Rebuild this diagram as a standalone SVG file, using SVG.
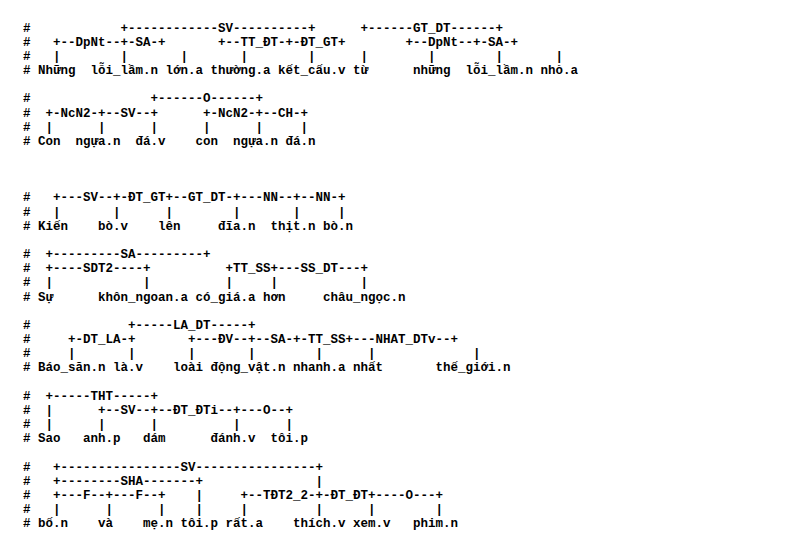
<svg xmlns="http://www.w3.org/2000/svg" width="804" height="550" viewBox="0 0 804 550">
<style>
text{font-family:"Liberation Mono","DejaVu Sans Mono",monospace;font-size:12.5px;font-weight:bold;fill:#000}
</style>
<rect width="804" height="550" fill="#fff"/>
<g id="parse1">
<g id="parse1-links">
<text y="31.5"><tspan x="23">#</tspan><tspan x="120.5">+------------SV----------+</tspan><tspan x="360.5">+------GT_DT------+</tspan></text>
<text y="45.7"><tspan x="23">#</tspan><tspan x="53">+--DpNt--+-SA-+</tspan><tspan x="218">+--TT_ĐT-+-ĐT_GT+</tspan><tspan x="405.5">+--DpNt--+-SA-+</tspan></text>
<text y="59.8"><tspan x="23">#</tspan><tspan x="53">|</tspan><tspan x="120.5">|</tspan><tspan x="180.5">|</tspan><tspan x="240.5">|</tspan><tspan x="308">|</tspan><tspan x="360.5">|</tspan><tspan x="428">|</tspan><tspan x="495.5">|</tspan><tspan x="555.5">|</tspan></text>
</g>
<g id="parse1-words">
<text y="74"><tspan x="23">#</tspan><tspan x="38">Những</tspan><tspan x="90.5">lỗi_lầm.n</tspan><tspan x="165.5">lớn.a</tspan><tspan x="210.5">thường.a</tspan><tspan x="278">kết_cấu.v</tspan><tspan x="353">từ</tspan><tspan x="413">những</tspan><tspan x="465.5">lỗi_lầm.n</tspan><tspan x="540.5">nhỏ.a</tspan></text>
</g>
</g>
<g id="parse2">
<g id="parse2-links">
<text y="102.3"><tspan x="23">#</tspan><tspan x="150.5">+------O------+</tspan></text>
<text y="116.5"><tspan x="23">#</tspan><tspan x="45.5">+-NcN2-+--SV--+</tspan><tspan x="203">+-NcN2-+--CH-+</tspan></text>
<text y="130.6"><tspan x="23">#</tspan><tspan x="45.5">|</tspan><tspan x="98">|</tspan><tspan x="150.5">|</tspan><tspan x="203">|</tspan><tspan x="255.5">|</tspan><tspan x="300.5">|</tspan></text>
</g>
<g id="parse2-words">
<text y="144.8"><tspan x="23">#</tspan><tspan x="38">Con</tspan><tspan x="75.5">ngựa.n</tspan><tspan x="135.5">đá.v</tspan><tspan x="195.5">con</tspan><tspan x="233">ngựa.n</tspan><tspan x="285.5">đá.n</tspan></text>
</g>
</g>
<g id="parse3">
<g id="parse3-links">
<text y="201.4"><tspan x="23">#</tspan><tspan x="53">+---SV--+-ĐT_GT+--GT_DT-+---NN--+--NN-+</tspan></text>
<text y="215.6"><tspan x="23">#</tspan><tspan x="53">|</tspan><tspan x="113">|</tspan><tspan x="165.5">|</tspan><tspan x="233">|</tspan><tspan x="293">|</tspan><tspan x="338">|</tspan></text>
</g>
<g id="parse3-words">
<text y="229.7"><tspan x="23">#</tspan><tspan x="38">Kiến</tspan><tspan x="98">bò.v</tspan><tspan x="158">lên</tspan><tspan x="218">đĩa.n</tspan><tspan x="270.5">thịt.n</tspan><tspan x="323">bò.n</tspan></text>
</g>
</g>
<g id="parse4">
<g id="parse4-links">
<text y="258.1"><tspan x="23">#</tspan><tspan x="45.5">+---------SA---------+</tspan></text>
<text y="272.2"><tspan x="23">#</tspan><tspan x="45.5">+----SDT2----+</tspan><tspan x="225.5">+TT_SS+---SS_DT---+</tspan></text>
<text y="286.4"><tspan x="23">#</tspan><tspan x="45.5">|</tspan><tspan x="143">|</tspan><tspan x="225.5">|</tspan><tspan x="270.5">|</tspan><tspan x="360.5">|</tspan></text>
</g>
<g id="parse4-words">
<text y="300.5"><tspan x="23">#</tspan><tspan x="38">Sự</tspan><tspan x="98">khôn_ngoan.a</tspan><tspan x="195.5">có_giá.a</tspan><tspan x="263">hơn</tspan><tspan x="323">châu_ngọc.n</tspan></text>
</g>
</g>
<g id="parse5">
<g id="parse5-links">
<text y="328.9"><tspan x="23">#</tspan><tspan x="128">+-----LA_DT-----+</tspan></text>
<text y="343"><tspan x="23">#</tspan><tspan x="68">+-DT_LA-+</tspan><tspan x="188">+---ĐV--+--SA-+-TT_SS+---NHAT_DTv--+</tspan></text>
<text y="357.2"><tspan x="23">#</tspan><tspan x="68">|</tspan><tspan x="128">|</tspan><tspan x="188">|</tspan><tspan x="248">|</tspan><tspan x="315.5">|</tspan><tspan x="368">|</tspan><tspan x="473">|</tspan></text>
</g>
<g id="parse5-words">
<text y="371.3"><tspan x="23">#</tspan><tspan x="38">Báo_săn.n</tspan><tspan x="113">là.v</tspan><tspan x="173">loài</tspan><tspan x="210.5">động_vật.n</tspan><tspan x="293">nhanh.a</tspan><tspan x="353">nhất</tspan><tspan x="435.5">thế_giới.n</tspan></text>
</g>
</g>
<g id="parse6">
<g id="parse6-links">
<text y="399.7"><tspan x="23">#</tspan><tspan x="45.5">+-----THT-----+</tspan></text>
<text y="413.8"><tspan x="23">#</tspan><tspan x="45.5">|</tspan><tspan x="98">+--SV--+--ĐT_ĐTi--+---O--+</tspan></text>
<text y="428"><tspan x="23">#</tspan><tspan x="45.5">|</tspan><tspan x="98">|</tspan><tspan x="150.5">|</tspan><tspan x="233">|</tspan><tspan x="285.5">|</tspan></text>
</g>
<g id="parse6-words">
<text y="442.1"><tspan x="23">#</tspan><tspan x="38">Sao</tspan><tspan x="83">anh.p</tspan><tspan x="143">dám</tspan><tspan x="210.5">đánh.v</tspan><tspan x="270.5">tôi.p</tspan></text>
</g>
</g>
<g id="parse7">
<g id="parse7-links">
<text y="470.5"><tspan x="23">#</tspan><tspan x="53">+----------------SV----------------+</tspan></text>
<text y="484.6"><tspan x="23">#</tspan><tspan x="53">+--------SHA-------+</tspan><tspan x="315.5">|</tspan></text>
<text y="498.8"><tspan x="23">#</tspan><tspan x="53">+---F--+---F--+</tspan><tspan x="195.5">|</tspan><tspan x="240.5">+--TĐT2_2-+-ĐT_ĐT+----O---+</tspan></text>
<text y="512.9"><tspan x="23">#</tspan><tspan x="53">|</tspan><tspan x="105.5">|</tspan><tspan x="158">|</tspan><tspan x="195.5">|</tspan><tspan x="240.5">|</tspan><tspan x="315.5">|</tspan><tspan x="368">|</tspan><tspan x="435.5">|</tspan></text>
</g>
<g id="parse7-words">
<text y="527.1"><tspan x="23">#</tspan><tspan x="38">bố.n</tspan><tspan x="98">và</tspan><tspan x="143">mẹ.n</tspan><tspan x="180.5">tôi.p</tspan><tspan x="225.5">rất.a</tspan><tspan x="293">thích.v</tspan><tspan x="353">xem.v</tspan><tspan x="413">phim.n</tspan></text>
</g>
</g>
</svg>
